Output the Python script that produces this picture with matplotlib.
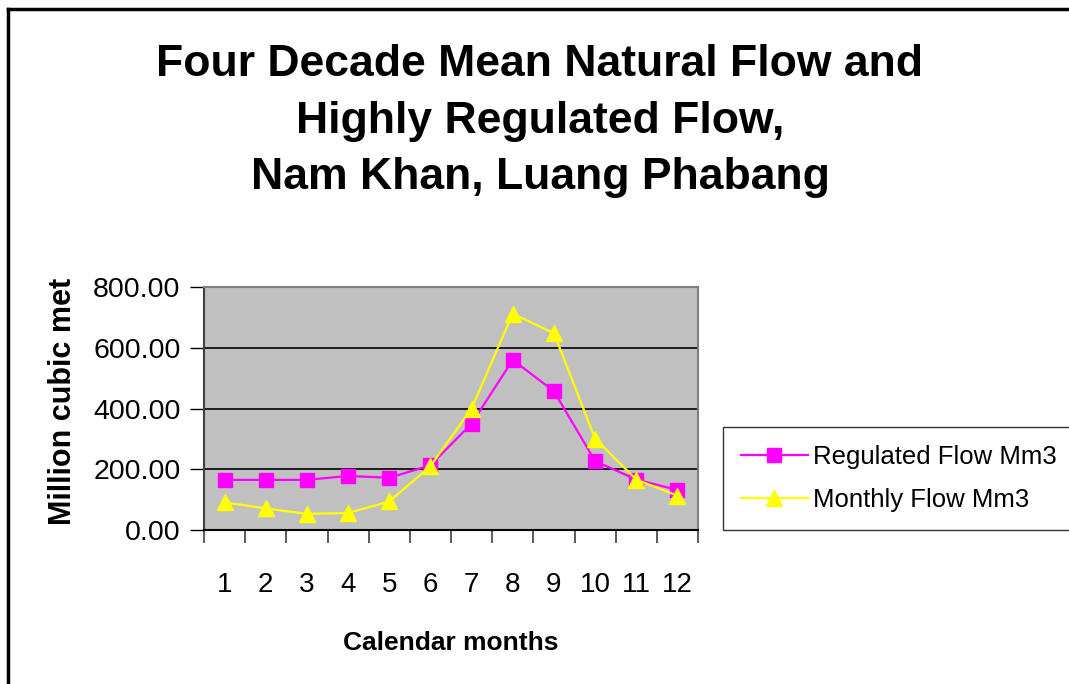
import matplotlib.pyplot as plt
from matplotlib.lines import Line2D

plt.rcParams['font.family'] = ['Liberation Sans', 'DejaVu Sans']

months = [1, 2, 3, 4, 5, 6, 7, 8, 9, 10, 11, 12]
month_labels = [str(m) for m in months]
regulated = [165, 165, 165, 178, 172, 213, 350, 560, 457, 227, 166, 132]
monthly = [91, 71, 53, 56, 94, 210, 400, 712, 648, 301, 166, 113]
y_ticks = [0, 200, 400, 600, 800]

fig = plt.figure(figsize=(10.69, 6.84), dpi=100)
W, H = 1069, 684
ax = fig.add_axes([204 / W, 1 - 530 / H, 494 / W, 243 / H])
ax.set_facecolor('#c0c0c0')

x = list(range(len(months)))
ax.plot(x, regulated, color='#ff00ff', lw=1.6, marker='s', ms=10,
        mec='#ff00ff', mfc='#ff00ff', label='Regulated Flow Mm3', zorder=3)
ax.plot(x, monthly, color='#ffff00', lw=1.6, marker='^', ms=12,
        mec='#ffff00', mfc='#ffff00', label='Monthly Flow Mm3', zorder=4)

ax.set_xlim(-0.5, 11.5)
ax.set_ylim(0, 800)
ax.set_yticks(y_ticks)
ax.set_yticklabels([f'{v:.2f}' for v in y_ticks], fontsize=20.5)
ax.yaxis.grid(True, color='black', lw=1.2)
ax.set_axisbelow(True)

# category labels centred, tick marks between categories
ax.set_xticks(x)
ax.set_xticklabels(month_labels, fontsize=20)
ax.tick_params(axis='x', which='major', length=0, pad=30)
ax.set_xticks([i - 0.5 for i in range(13)], minor=True)
ax.tick_params(axis='x', which='minor', length=9, width=1.2, direction='out', color='#404040')
ax.tick_params(axis='y', length=10, width=1, direction='out', pad=7)

for side in ['top', 'right']:
    ax.spines[side].set_color('#808080')
    ax.spines[side].set_linewidth(1.5)
ax.spines['left'].set_color('#404040')
ax.spines['left'].set_linewidth(1.5)
ax.spines['bottom'].set_color('black')
ax.spines['bottom'].set_linewidth(1.5)

ax.set_ylabel('Million cubic met', fontsize=22, fontweight='bold')
ax.yaxis.set_label_coords(-0.255, 0.53)
ax.set_xlabel('Calendar months', fontsize=19, fontweight='bold', labelpad=24)

fig.text(540 / W, 1 - 121 / H,
         'Four Decade Mean Natural Flow and\nHighly Regulated Flow,\nNam Khan, Luang Phabang',
         ha='center', va='center', fontsize=32, fontweight='bold', linespacing=1.5)

leg = ax.legend(loc='upper left', bbox_to_anchor=(723 / W, 1 - 427 / H),
                bbox_transform=fig.transFigure, fontsize=18.5, frameon=True,
                fancybox=False, edgecolor='black', borderpad=0.7,
                handlelength=2.6, labelspacing=0.75, handletextpad=0.2,
                borderaxespad=0)
leg.get_frame().set_linewidth(1.0)

# outer chart border (left and top only visible)
fig.add_artist(Line2D([8 / W, 8 / W], [0, 1 - 9 / H], color='black', lw=2.5,
                      transform=fig.transFigure))
fig.add_artist(Line2D([8 / W, 1], [1 - 9 / H, 1 - 9 / H], color='black', lw=2.5,
                      transform=fig.transFigure))

fig.savefig('out.png', dpi=100)
